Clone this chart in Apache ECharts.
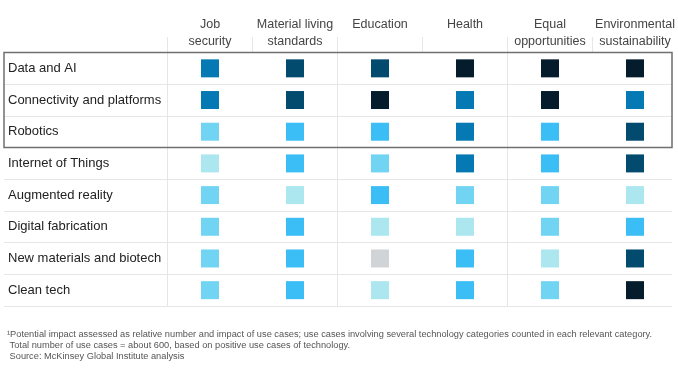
<!DOCTYPE html>
<html>
<head>
<meta charset="utf-8">
<script src="https://cdn.jsdelivr.net/npm/echarts@6/dist/echarts.min.js"></script>
<style>
html,body{margin:0;padding:0;background:#fff;}
#chart{width:678px;height:381px;}
</style>
</head>
<body>
<div id="chart"></div>
<script>
// Column headings (impact areas)
var impactAreas = ["Job\nsecurity", "Material living\nstandards", "Education", "Health", "Equal\nopportunities", "Environmental\nsustainability"];
// Row labels (technology categories)
var technologies = ["Data and AI", "Connectivity and platforms", "Robotics", "Internet of Things", "Augmented reality", "Digital fabrication", "New materials and biotech", "Clean tech"];
// Impact level per technology (0 = none … 6 = highest), in column order
var dataAndAI        = [4, 5, 5, 6, 6, 6];
var connectivity     = [4, 5, 6, 4, 6, 4];
var robotics         = [2, 3, 3, 4, 3, 5];
var internetOfThings = [1, 3, 2, 4, 3, 5];
var augmentedReality = [2, 1, 3, 2, 2, 1];
var digitalFab       = [2, 3, 1, 1, 2, 3];
var newMaterials     = [2, 3, 0, 3, 1, 5];
var cleanTech        = [2, 3, 1, 3, 2, 6];
var impactRows = [dataAndAI, connectivity, robotics, internetOfThings, augmentedReality, digitalFab, newMaterials, cleanTech];
// Highlighted (boxed) technologies
var highlighted = ["Data and AI", "Connectivity and platforms", "Robotics"];
// Footnote
var footnote = "\u00B9Potential impact assessed as relative number and impact of use cases; use cases involving several technology categories counted in each relevant category.\n Total number of use cases = about 600, based on positive use cases of technology.\n Source: McKinsey Global Institute analysis";

var levelColors = ["#D0D4D7", "#ACE7F0", "#72D4F3", "#3BBEF5", "#0479B3", "#034B6E", "#051C2C"];

var points = [];
impactRows.forEach(function (row, r) {
  row.forEach(function (lvl, c) {
    points.push({ value: [impactAreas[c], technologies[r]], level: lvl });
  });
});

var FONT = "Liberation Sans";
var gridLine = { show: true, showMaxLine: false, lineStyle: { color: "#e6e6e6", width: 1 } };

var chart = echarts.init(document.getElementById("chart"), null, { renderer: "canvas" });
var option = {
  animation: false,
  backgroundColor: "#fff",
  title: {
    text: footnote,
    left: 2, top: 324,
    textStyle: { fontFamily: FONT, fontSize: 9.25, fontWeight: "normal", color: "#555", lineHeight: 11 }
  },
  grid: [
    { left: 4, right: 6, top: 52.5, height: 253.5 },          // label column + row lines
    { left: 167.5, width: 510, top: 52.5, height: 253.5 },    // data cells
    { left: 167.5, width: 510, top: 37, height: 15.5 }        // header dividers
  ],
  xAxis: [
    { gridIndex: 0, type: "value", show: false, min: 0, max: 1 },
    { gridIndex: 1, type: "category", data: impactAreas, axisLine: { show: false }, axisTick: { show: false }, axisLabel: { show: false }, splitLine: gridLine },
    { gridIndex: 2, type: "category", data: impactAreas, position: "top", axisLine: { show: false }, axisTick: { show: false },
      axisLabel: { interval: 0, fontFamily: FONT, fontSize: 12.5, color: "#444", lineHeight: 17, verticalAlign: "top", margin: 21 },
      splitLine: gridLine }
  ],
  yAxis: [
    { gridIndex: 0, type: "category", data: technologies, inverse: true, axisLine: { show: false }, axisTick: { show: false },
      axisLabel: { inside: true, margin: 4, fontFamily: FONT, fontSize: 13, color: "#222" },
      splitLine: { show: true, lineStyle: { color: "#e6e6e6", width: 1 } } },
    { gridIndex: 1, type: "category", data: technologies, inverse: true, show: false },
    { gridIndex: 2, type: "value", show: false }
  ],
  series: [{
    type: "scatter",
    xAxisIndex: 1, yAxisIndex: 1,
    symbol: "rect",
    symbolSize: 18,
    data: points,
    itemStyle: { opacity: 1, color: function (p) { return levelColors[p.data.level]; } },
    emphasis: { disabled: true },
    z: 5
  }]
};
chart.setOption(option);

// Box around the highlighted rows, placed through the axis scale
var firstC = chart.convertToPixel({ gridIndex: 0 }, [0, highlighted[0]])[1];
var lastC = chart.convertToPixel({ gridIndex: 0 }, [0, highlighted[highlighted.length - 1]])[1];
var band = chart.convertToPixel({ gridIndex: 0 }, [0, technologies[1]])[1] - chart.convertToPixel({ gridIndex: 0 }, [0, technologies[0]])[1];
var gLeft = chart.convertToPixel({ gridIndex: 0 }, [0, technologies[0]])[0];
var gRight = chart.convertToPixel({ gridIndex: 0 }, [1, technologies[0]])[0];
chart.setOption({
  graphic: [{
    type: "rect", z: 100,
    shape: { x: gLeft, y: firstC - band / 2, width: gRight - gLeft, height: lastC - firstC + band },
    style: { fill: "none", stroke: "#6f6f6f", lineWidth: 1.5 }
  }]
});
</script>
</body>
</html>
